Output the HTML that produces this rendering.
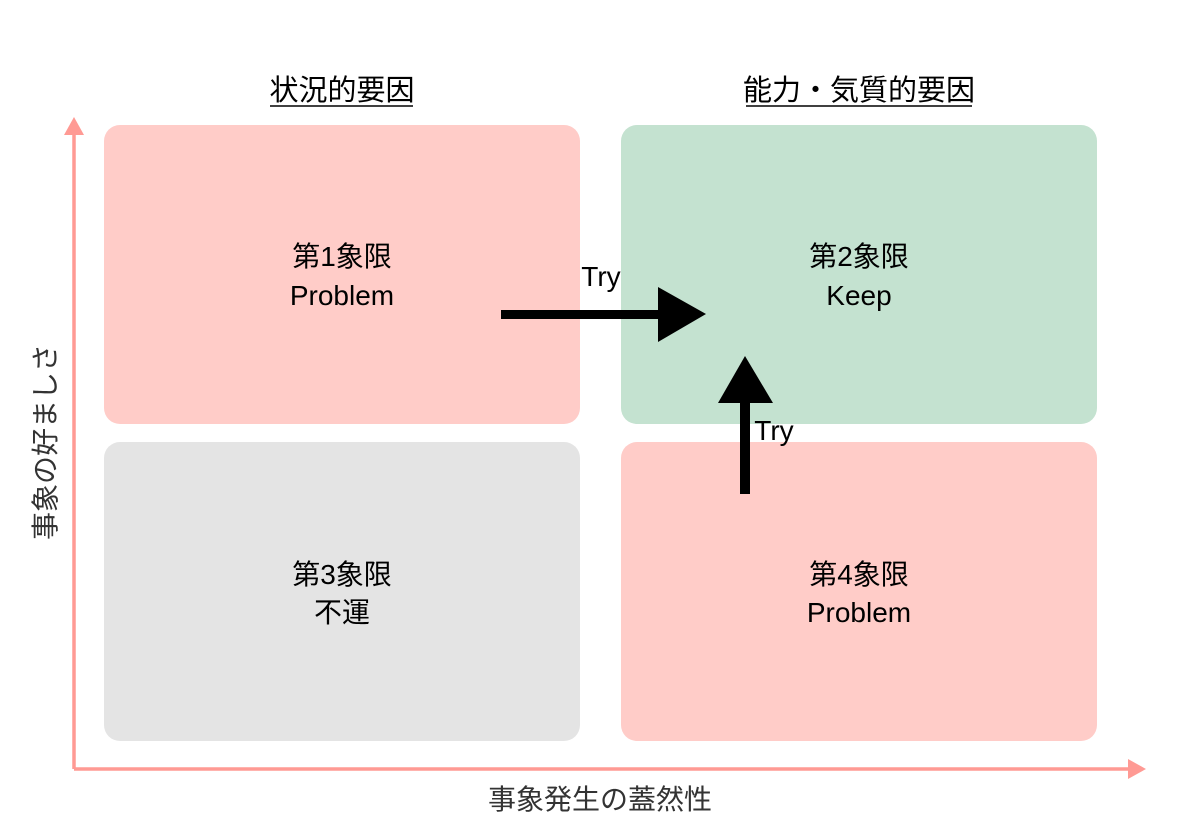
<!DOCTYPE html>
<html><head><meta charset="utf-8"><style>
body{margin:0;width:1200px;height:832px;background:#fff;overflow:hidden;font-family:"Liberation Sans","Noto Sans CJK JP",sans-serif}
</style></head><body>
<svg width="1200" height="832" xmlns="http://www.w3.org/2000/svg" font-family="Liberation Sans, Noto Sans CJK JP, sans-serif">
<rect x="104" y="125" width="476" height="299" rx="16" fill="#ffccc8"/>
<rect x="621" y="125" width="476" height="299" rx="16" fill="#c4e2d0"/>
<rect x="104" y="442" width="476" height="299" rx="16" fill="#e4e4e4"/>
<rect x="621" y="442" width="476" height="299" rx="16" fill="#ffccc8"/>
<g stroke="#ff9a94" stroke-width="3.5" fill="none"><line x1="74" y1="769" x2="74" y2="132"/><line x1="74" y1="769" x2="1130" y2="769"/></g>
<polygon points="74,117 64,135 84,135" fill="#ff9a94"/>
<polygon points="1146,769 1128,759 1128,779" fill="#ff9a94"/>
<g font-size="28" text-anchor="middle" fill="#000">
<text x="342" y="266">第1象限</text><text x="342" y="305">Problem</text>
<text x="859" y="266">第2象限</text><text x="859" y="305">Keep</text>
<text x="342" y="584">第3象限</text><text x="342" y="622">不運</text>
<text x="859" y="584">第4象限</text><text x="859" y="622">Problem</text>
<text x="601" y="286">Try</text><text x="774" y="440">Try</text>
<text x="342" y="100" font-size="29">状況的要因</text>
<text x="859" y="100" font-size="29">能力・気質的要因</text>
<text x="600" y="809" fill="#333">事象発生の蓋然性</text>
<text transform="translate(55,442) rotate(-90)" fill="#333">事象の好ましさ</text>
</g>
<line x1="270" y1="106" x2="413" y2="106" stroke="#000" stroke-width="1.5"/>
<line x1="746" y1="106" x2="972" y2="106" stroke="#000" stroke-width="1.5"/>
<rect x="501" y="310" width="160" height="9" fill="#000"/>
<polygon points="706,314 658,287 658,342" fill="#000"/>
<rect x="740" y="400" width="10" height="94" fill="#000"/>
<polygon points="745,356 718,403 773,403" fill="#000"/>
</svg>
</body></html>
